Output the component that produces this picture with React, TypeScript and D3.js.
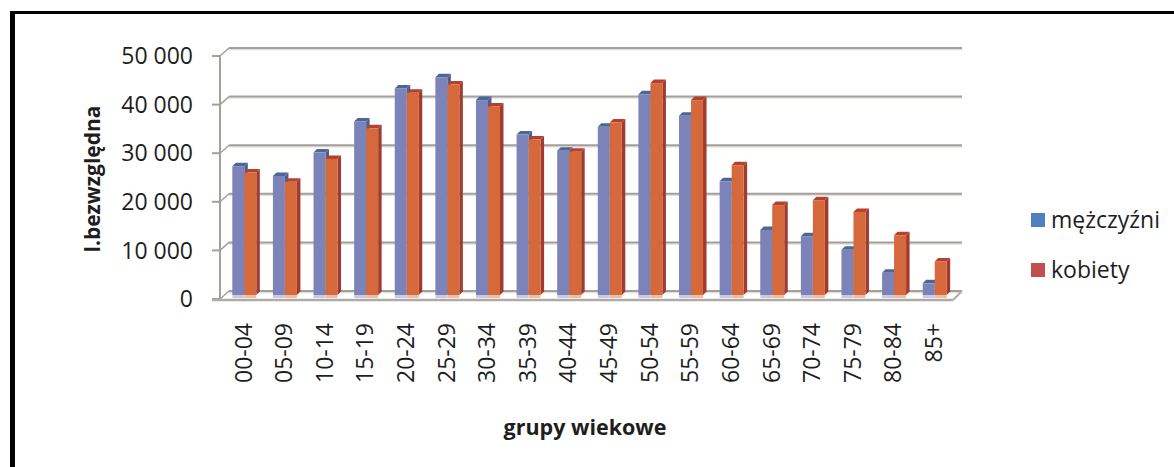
import * as d3 from "d3";

const categories = ["00-04", "05-09", "10-14", "15-19", "20-24", "25-29", "30-34", "35-39", "40-44", "45-49", "50-54", "55-59", "60-64", "65-69", "70-74", "75-79", "80-84", "85+"];
const men = [26500, 24500, 29300, 35700, 42500, 44800, 40100, 33000, 29700, 34600, 41300, 36900, 23400, 13400, 12100, 9300, 4600, 2400];
const women = [25200, 23300, 28000, 34300, 41600, 43300, 38800, 32000, 29500, 35500, 43600, 40100, 26700, 18500, 19500, 17100, 12300, 6900];
const seriesNames = ["mężczyźni", "kobiety"];
const yTicks = [0, 10000, 20000, 30000, 40000, 50000];

const W = 1174;
const H = 467;
const font = "'Open Sans', 'DejaVu Sans', sans-serif";

// depth offset of the 3d box (front -> back)
const DX = 9;
const DY = -8;

export default function App() {
  const x = d3.scaleBand<string>().domain(categories).range([224, 955]);
  const xs = d3.scaleBand<string>().domain(seriesNames).range([0, 24]);
  const pairOff = (x.bandwidth() - 24) / 2;

  // back wall scale, bars sit half way in depth
  const yBack = d3.scaleLinear().domain([0, 50000]).range([291, 48]);
  const yBar = d3.scaleLinear().domain([0, 50000]).range([295, 52]);
  const fmt = (v: number) => d3.format(",")(v).replace(/,/g, " ");

  const backL = 229;
  const backR = 962;
  const frontL = backL - DX;

  const bar = (cat: string, s: string, v: number, face: string, top: string, side: string, pale: string) => {
    const bx = (x(cat) as number) + pairOff + (xs(s) as number);
    const bw = xs.bandwidth();
    const y0 = yBar(0);
    const y1 = yBar(v);
    const d = 3.5;
    return (
      <g key={cat + s}>
        <rect x={bx} y={y0} width={bw} height={3} fill={pale} />
        <path d={`M${bx + bw},${y1} L${bx + bw + d},${y1 - d} L${bx + bw + d},${y0 - d} L${bx + bw},${y0} Z`} fill={side} />
        <path d={`M${bx},${y1} L${bx + d},${y1 - d} L${bx + bw + d},${y1 - d} L${bx + bw},${y1} Z`} fill={top} />
        <rect x={bx} y={y1} width={bw} height={y0 - y1} fill={face} />
      </g>
    );
  };

  return (
    <svg width={W} height={H} style={{ position: "absolute", left: 0, top: 0, background: "#fff" }}>
      {/* frame */}
      <line x1={12.5} y1={11} x2={12.5} y2={H} stroke="#000" strokeWidth={5} />
      <line x1={10} y1={12.5} x2={W} y2={12.5} stroke="#000" strokeWidth={3} />

      {/* gridlines on back wall */}
      {yTicks.map((t) => (
        <g key={t}>
          <line x1={backL} y1={yBack(t) + 1.5} x2={backR} y2={yBack(t) + 1.5} stroke="#e2e0de" strokeWidth={1.5} />
          <line x1={backL} y1={yBack(t)} x2={backR} y2={yBack(t)} stroke="#a59f99" strokeWidth={2} />
          <line x1={frontL} y1={yBack(t) - DY} x2={backL} y2={yBack(t)} stroke="#a59f99" strokeWidth={1.5} />
          <line x1={frontL - 8} y1={yBack(t) - DY} x2={frontL} y2={yBack(t) - DY} stroke="#a59f99" strokeWidth={2} />
          <text x={193} y={yBack(t) - DY} dy="0.36em" textAnchor="end" fontFamily={font} fontSize={23} fill="#1e1e1e">
            {fmt(t)}
          </text>
        </g>
      ))}
      <line x1={frontL} y1={yBack(50000) - DY} x2={frontL} y2={yBack(0) - DY} stroke="#a59f99" strokeWidth={2} />

      {/* bars */}
      {categories.map((c, i) => (
        <g key={c}>
          {bar(c, seriesNames[0], men[i], "#7b83b9", "#4b6796", "#4b5f8e", "#c9cbe4")}
          {bar(c, seriesNames[1], women[i], "#d6693b", "#b4402f", "#a13a2f", "#ecc0a6")}
        </g>
      ))}

      {/* floor front edge */}
      <line x1={frontL - 8} y1={yBack(0) - DY + 1} x2={backR - DX} y2={yBack(0) - DY + 1} stroke="#b1aba6" strokeWidth={2.5} />
      <line x1={backR - DX} y1={yBack(0) - DY + 1} x2={backR} y2={yBack(0)} stroke="#b1aba6" strokeWidth={2} />

      {/* x labels */}
      {categories.map((c) => {
        const cx = (x(c) as number) + x.bandwidth() / 2 - 1;
        return (
          <text key={c} transform={`translate(${cx},323) rotate(-90)`} dy="0.36em" textAnchor="end" fontFamily={font} fontSize={23} fill="#1e1e1e">
            {c}
          </text>
        );
      })}

      {/* axis titles */}
      <text x={585} y={427} dy="0.36em" textAnchor="middle" fontFamily={font} fontSize={21.5} fontWeight="bold" fill="#1e1e1e">
        grupy wiekowe
      </text>
      <text transform="translate(92,179) rotate(-90)" dy="0.36em" textAnchor="middle" fontFamily={font} fontSize={21} fontWeight="bold" fill="#1e1e1e">
        l.bezwzględna
      </text>

      {/* legend */}
      {seriesNames.map((s, i) => (
        <g key={s} transform={`translate(1031,${213 + i * 50})`}>
          <rect width={14} height={14} fill={i === 0 ? "#4f81bd" : "#c0504d"} />
          <text x={20} y={7} dy="0.36em" fontFamily={font} fontSize={23} fill="#1e1e1e">
            {s}
          </text>
        </g>
      ))}
    </svg>
  );
}
